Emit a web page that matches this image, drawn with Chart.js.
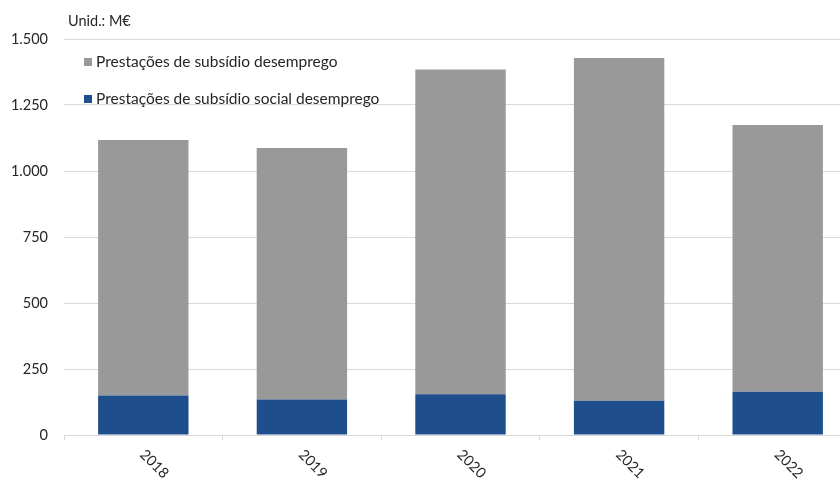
<!DOCTYPE html>
<html>
<head>
<meta charset="utf-8">
<script src="https://cdn.jsdelivr.net/npm/chart.js@4/dist/chart.umd.min.js"></script>
<style>
  html, body { margin: 0; padding: 0; background: #fff; overflow: hidden; }
  #wrap { width: 840px; height: 479px; overflow: hidden; position: relative; }
  canvas { display: block; }
</style>
</head>
<body>
<div id="wrap"><canvas id="c" width="857" height="479"></canvas></div>
<script>
// Unemployment benefit payments, million euros
const years = ['2018', '2019', '2020', '2021', '2022'];
const subsidioSocialDesemprego = [150, 134, 154, 130, 164];
const subsidioDesemprego = [967, 953, 1230, 1298, 1010];
const yTickValues = [0, 250, 500, 750, 1000, 1250, 1500];
const unitLabel = 'Unid.: M€';
const labelDesemprego = 'Prestações de subsídio desemprego';
const labelSocial = 'Prestações de subsídio social desemprego';

const FONT = 'Lato, "Open Sans", sans-serif';
const TEXT = '#262626';
const GRID = '#d9d9d9';
const GREY = '#999999';
const BLUE = '#1f4e8c';

function fmtThousands(v) {
  return String(v).replace(/\B(?=(\d{3})+(?!\d))/g, '.');
}

// Legend, unit caption and rotated year labels
const overlay = {
  id: 'overlay',
  afterDraw(chart) {
    const ctx = chart.ctx;
    const x = chart.scales.x;
    ctx.save();
    ctx.fillStyle = TEXT;
    ctx.font = '14.5px ' + FONT;
    ctx.textBaseline = 'middle';
    ctx.textAlign = 'left';
    ctx.fillText(unitLabel, 68, 21);

    // legend: top series first
    ctx.font = '15.5px ' + FONT;
    const items = [chart.data.datasets[1], chart.data.datasets[0]];
    const ys = [62, 99];
    items.forEach((ds, i) => {
      ctx.fillStyle = ds.backgroundColor;
      ctx.fillRect(84, ys[i] - 4, 8, 8);
      ctx.fillStyle = TEXT;
      ctx.fillText(ds.label, 96, ys[i]);
    });

    // year labels, rotated 45 degrees clockwise
    ctx.font = '14.5px ' + FONT;
    chart.data.labels.forEach((lab, i) => {
      const px = x.getPixelForValue(i);
      ctx.save();
      ctx.translate(px + 11, 464);
      ctx.rotate(Math.PI / 4);
      ctx.textAlign = 'center';
      ctx.textBaseline = 'middle';
      ctx.fillStyle = TEXT;
      ctx.fillText(lab, 0, 0);
      ctx.restore();
    });
    ctx.restore();
  }
};

new Chart(document.getElementById('c'), {
  type: 'bar',
  data: {
    labels: years,
    datasets: [
      { label: labelSocial, data: subsidioSocialDesemprego, backgroundColor: BLUE, stack: 's' },
      { label: labelDesemprego, data: subsidioDesemprego, backgroundColor: GREY, stack: 's' }
    ]
  },
  options: {
    responsive: false,
    animation: false,
    devicePixelRatio: 1,
    layout: { padding: { top: 39, left: 0, right: 0, bottom: 0 } },
    categoryPercentage: 0.57,
    barPercentage: 1,
    plugins: { legend: { display: false }, tooltip: { enabled: false } },
    scales: {
      x: {
        stacked: true,
        grid: { drawOnChartArea: false, drawTicks: true, tickLength: 5, color: GRID, offset: true },
        border: { color: GRID },
        ticks: { display: false },
        afterFit(s) { s.height = 44; }
      },
      y: {
        stacked: true,
        min: 0,
        max: 1500,
        afterBuildTicks(s) { s.ticks = yTickValues.map(v => ({ value: v })); },
        grid: { color: GRID, drawTicks: false },
        border: { display: false },
        ticks: {
          padding: 16,
          color: TEXT,
          font: { family: FONT, size: 14.5 },
          callback: v => fmtThousands(v)
        },
        afterFit(s) { s.width = 64; }
      }
    }
  },
  plugins: [overlay]
});
</script>
</body>
</html>
